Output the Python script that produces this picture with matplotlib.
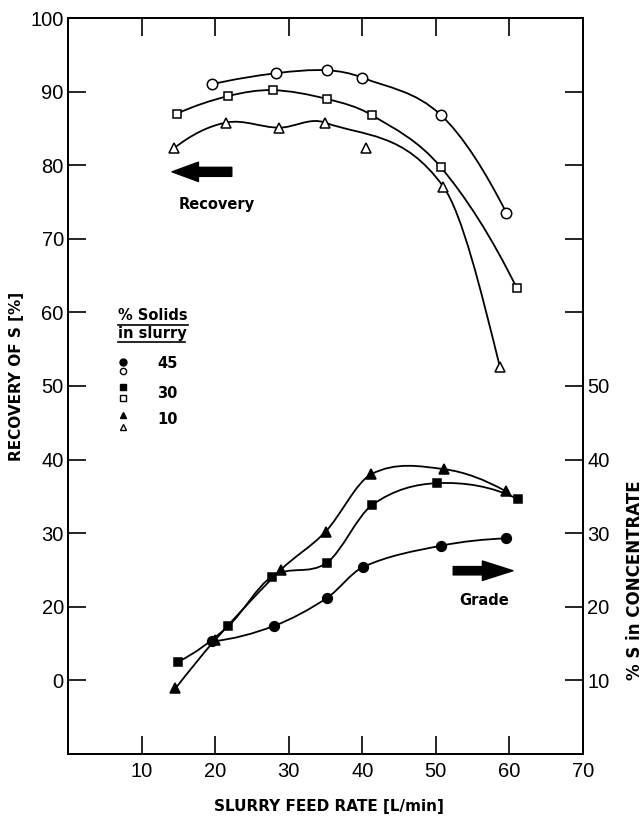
import numpy as np
import matplotlib
matplotlib.use("Agg")
import matplotlib.pyplot as plt
from matplotlib.path import Path
from matplotlib.patches import PathPatch, FancyArrowPatch
from matplotlib.lines import Line2D

# Recovery of S [%] (open symbols, left axis)
rec45_x = [19.6, 28.3, 35.2, 40.0, 50.7, 59.6]
rec45_y = [91.0, 92.5, 92.9, 91.9, 86.8, 73.5]
rec30_x = [14.8, 21.8, 27.8, 35.2, 41.3, 50.7, 61.0]
rec30_y = [87.0, 89.4, 90.2, 89.0, 86.8, 79.7, 63.3]
rec10_x = [14.4, 21.5, 28.7, 34.9, 40.5, 51.0, 58.7]
rec10_y = [82.3, 85.8, 85.1, 85.8, 82.3, 77.1, 52.6]
rec10_on_curve = [True, True, True, True, False, True, True]

# % S in concentrate (filled symbols, right axis)
gr45_x = [19.6, 28.0, 35.2, 40.1, 50.7, 59.6]
gr45_y = [15.3, 17.4, 21.2, 25.4, 28.3, 29.3]
gr30_x = [14.9, 21.8, 27.7, 35.2, 41.3, 50.2, 61.2]
gr30_y = [12.5, 17.4, 24.1, 26.0, 33.8, 36.8, 34.6]
gr10_x = [14.6, 20.0, 28.9, 35.0, 41.2, 51.1, 59.5]
gr10_y = [8.9, 15.5, 25.0, 30.2, 38.0, 38.7, 35.7]

x_ticks = [10, 20, 30, 40, 50, 60, 70]
left_ticks = [10, 20, 30, 40, 50, 60, 70, 80, 90, 100]
left_labels = ["0", "20", "30", "40", "50", "60", "70", "80", "90", "100"]
right_ticks = [10, 20, 30, 40, 50, 60, 70, 80, 90]
right_labels = ["10", "20", "30", "40", "50", "", "", "", ""]


def smooth_path(x, y):
    # hermite curve in x, drawn as cubic beziers
    x = np.asarray(x, float)
    y = np.asarray(y, float)
    n = len(x)
    m = np.zeros(n)
    for i in range(1, n - 1):
        m[i] = (y[i + 1] - y[i - 1]) / (x[i + 1] - x[i - 1])
    # ends: slope of the parabola through the three end points
    d0 = (y[1] - y[0]) / (x[1] - x[0])
    d1 = (y[2] - y[1]) / (x[2] - x[1])
    m[0] = d0 - (d1 - d0) / (x[2] - x[0]) * (x[1] - x[0])
    d0 = (y[-2] - y[-3]) / (x[-2] - x[-3])
    d1 = (y[-1] - y[-2]) / (x[-1] - x[-2])
    m[-1] = d1 + (d1 - d0) / (x[-1] - x[-3]) * (x[-1] - x[-2])
    verts = [(x[0], y[0])]
    codes = [Path.MOVETO]
    for i in range(n - 1):
        h = x[i + 1] - x[i]
        verts += [(x[i] + h / 3, y[i] + m[i] * h / 3),
                  (x[i + 1] - h / 3, y[i + 1] - m[i + 1] * h / 3),
                  (x[i + 1], y[i + 1])]
        codes += [Path.CURVE4] * 3
    return Path(verts, codes)


def draw_series(ax, x, y, marker, filled, ms, on_curve=None):
    if on_curve is None:
        on_curve = [True] * len(x)
    cx = [a for a, k in zip(x, on_curve) if k]
    cy = [b for b, k in zip(y, on_curve) if k]
    ax.add_patch(PathPatch(smooth_path(cx, cy), fill=False, lw=1.3,
                           edgecolor="black", zorder=2))
    ax.plot(x, y, ls="none", marker=marker, ms=ms, mew=1.1, mec="black",
            mfc="black" if filled else "white", zorder=3)


fig = plt.figure(figsize=(6.43, 8.19), dpi=100)
ax = fig.add_axes([0.1058, 0.0794, 0.8009, 0.8986])
ax2 = ax.twinx()

for a in (ax, ax2):
    a.set_xlim(0, 70)
    a.set_ylim(0, 100)
    for s in a.spines.values():
        s.set_linewidth(1.3)

tickfont = "Liberation Sans"
ax.set_xticks(x_ticks)
ax.set_xticklabels([str(t) for t in x_ticks], fontfamily=tickfont)
ax.set_yticks(left_ticks)
ax.set_yticklabels(left_labels, fontfamily=tickfont)
ax2.set_yticks(right_ticks)
ax2.set_yticklabels(right_labels, fontfamily=tickfont)
ax.tick_params(axis="both", direction="in", length=13, width=1.2,
               labelsize=14.5, pad=3, top=True)
ax.tick_params(axis="x", pad=6)
ax2.tick_params(axis="y", direction="in", length=13, width=1.2,
                labelsize=14.5, pad=3)

draw_series(ax, rec45_x, rec45_y, "o", False, 7.5)
draw_series(ax, rec30_x, rec30_y, "s", False, 5.5)
draw_series(ax, rec10_x, rec10_y, "^", False, 7.5, rec10_on_curve)
draw_series(ax2, gr45_x, gr45_y, "o", True, 7)
draw_series(ax2, gr30_x, gr30_y, "s", True, 6)
draw_series(ax2, gr10_x, gr10_y, "^", True, 6.5)

bold = dict(fontfamily="DejaVu Sans", fontweight="bold")

# legend block
ax.text(0.097, 0.596, "% Solids", transform=ax.transAxes, fontsize=10.5,
        va="center", ha="left", **bold)
ax.text(0.097, 0.572, "in slurry", transform=ax.transAxes, fontsize=10.5,
        va="center", ha="left", **bold)
ax.add_line(Line2D([0.097, 0.233], [0.583, 0.583], transform=ax.transAxes,
                   color="black", lw=1.2))
ax.add_line(Line2D([0.097, 0.227], [0.560, 0.560], transform=ax.transAxes,
                   color="black", lw=1.2))
for (ym_f, ym_o, mk, lab, yl) in [(0.533, 0.520, "o", "45", 0.531),
                                  (0.499, 0.484, "s", "30", 0.490),
                                  (0.461, 0.444, "^", "10", 0.454)]:
    ax.plot([0.107], [ym_f], marker=mk, ms=5, color="black",
            transform=ax.transAxes, ls="none")
    ax.plot([0.107], [ym_o], marker=mk, ms=4.5, mfc="white", mec="black",
            mew=1.0, transform=ax.transAxes, ls="none")
    ax.text(0.173, yl, lab, transform=ax.transAxes, fontsize=10.5,
            va="center", ha="left", **bold)

# recovery / grade arrows
ax.text(0.288, 0.746, "Recovery", transform=ax.transAxes, fontsize=10.5,
        ha="center", va="center", **bold)
ax.add_patch(FancyArrowPatch((0.318, 0.791), (0.202, 0.791),
                             transform=ax.transAxes, mutation_scale=10,
                             arrowstyle="simple,head_length=1.9,head_width=1.4,tail_width=0.65",
                             color="black", shrinkA=0, shrinkB=0))
ax.text(0.808, 0.209, "Grade", transform=ax.transAxes, fontsize=10.5,
        ha="center", va="center", **bold)
ax.add_patch(FancyArrowPatch((0.748, 0.249), (0.864, 0.249),
                             transform=ax.transAxes, mutation_scale=10,
                             arrowstyle="simple,head_length=2.2,head_width=1.4,tail_width=0.6",
                             color="black", shrinkA=0, shrinkB=0))

fig.text(0.512, 0.0147, "SLURRY FEED RATE [L/min]", fontsize=11,
         ha="center", va="center", **bold)
fig.text(0.026, 0.540, "RECOVERY OF S [%]", fontsize=11, rotation=90,
         ha="center", va="center", **bold)
fig.text(0.987, 0.291, "% S in CONCENTRATE", fontsize=12, rotation=90,
         ha="center", va="center", **bold)

fig.savefig("out.png", dpi=100)
